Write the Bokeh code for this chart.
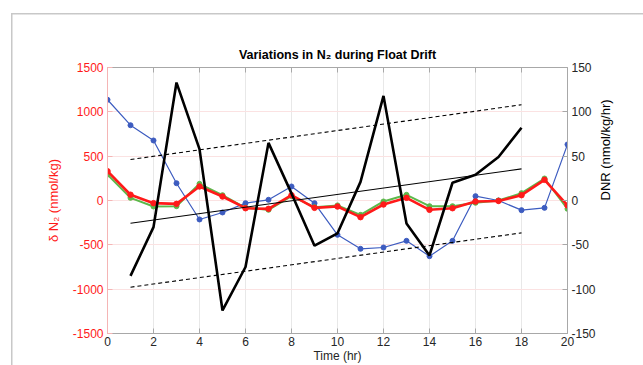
import math
from bokeh.plotting import figure
from bokeh.models import Range1d, LinearAxis, FixedTicker
from bokeh.embed import file_html
from bokeh.resources import INLINE

# ---------------- data ----------------
hours = list(range(21))
dn2_red = [330, 65, -30, -38, 158, 45, -87, -94, 60, -83, -68, -188, -45, 30, -105, -87, -11, -5, 60, 233, -56]
dn2_green = [293, 30, -68, -64, 188, 60, -82, -105, 50, -75, -55, -162, -11, 64, -64, -64, -26, 0, 83, 248, -94]
dn2_blue = [1136, 849, 677, 195, -214, -135, -30, 8, 158, -30, -387, -545, -530, -455, -628, -455, 49, 0, -109, -83, 632]

dnr_hours = list(range(1, 19))
dnr = [-85, -30, 133, 58, -124, -75, 65, 8, -51, -37, 21, 118, -26, -62, 20, 29, 49, 82]

trend_hours = [1, 18]
trend_mid = [-25.6, 35.7]
trend_upper = [46.2, 108.0]
trend_lower = [-97.8, -36.5]

x_ticks = [0, 2, 4, 6, 8, 10, 12, 14, 16, 18, 20]
left_ticks = [-1500, -1000, -500, 0, 500, 1000, 1500]
right_ticks = [-150, -100, -50, 0, 50, 100, 150]

title_text = "Variations in N\u2082 during Float Drift"
left_label = "\u03b4 N\u2082 (nmol/kg)"
right_label = "DNR (nmol/kg/hr)"
x_label = "Time (hr)"

# ---------------- styling ----------------
FONT = "Liberation Sans"
RED = "#ff1a1a"
GREEN = "#5cb84a"
BLUE = "#3d5cc0"
AXGRAY = "#a8a8a8"
TXT = "#262626"
BORDER = "#c8c8c8"

frame_css = (f"linear-gradient({BORDER},{BORDER}) 11px 13px / 1.5px 100% no-repeat, "
             f"linear-gradient({BORDER},{BORDER}) 11px 13px / 100% 1.5px no-repeat")

p = figure(width=643, height=365, output_backend="svg", toolbar_location=None,
           x_range=Range1d(0, 20), y_range=Range1d(-1500, 1500),
           min_border_left=107, min_border_right=76, min_border_top=67, min_border_bottom=32,
           styles={"background": frame_css})
p.extra_y_ranges = {"dnr": Range1d(-150, 150)}
p.outline_line_color = None
p.background_fill_color = "white"
p.border_fill_color = None

p.title.text = title_text
p.title.align = "center"
p.title.text_font = FONT
p.title.text_font_size = "12.5px"
p.title.text_font_style = "bold"
p.title.text_color = "black"
p.title.standoff = 12

# grids
p.xgrid.ticker = FixedTicker(ticks=x_ticks)
p.xgrid.grid_line_color = "#e8e8e8"
p.ygrid.ticker = FixedTicker(ticks=left_ticks)
p.ygrid.grid_line_color = "#fbe2e2"


def hyphen_labels(ticks):
    return {t: str(t) for t in ticks}


# bottom axis
xa = p.xaxis[0]
xa.ticker = FixedTicker(ticks=x_ticks)
xa.axis_line_color = AXGRAY
xa.major_tick_line_color = AXGRAY
xa.major_tick_in = 5
xa.major_tick_out = 0
xa.minor_tick_line_color = None
xa.major_label_text_font = FONT
xa.major_label_text_font_size = "12px"
xa.major_label_text_color = TXT
xa.major_label_standoff = 3
xa.axis_label = x_label
xa.axis_label_text_font = FONT
xa.axis_label_text_font_size = "12px"
xa.axis_label_text_font_style = "normal"
xa.axis_label_text_color = TXT
xa.axis_label_standoff = 0

# left axis
ya = p.yaxis[0]
ya.ticker = FixedTicker(ticks=left_ticks)
ya.major_label_overrides = hyphen_labels(left_ticks)
ya.axis_line_color = "#f5b5b5"
ya.major_tick_line_color = "#f5b5b5"
ya.major_tick_in = 5
ya.major_tick_out = 0
ya.minor_tick_line_color = None
ya.major_label_text_font = FONT
ya.major_label_text_font_size = "12px"
ya.major_label_text_color = RED
ya.major_label_standoff = 4
ya.axis_label = left_label
ya.axis_label_text_font = FONT
ya.axis_label_text_font_size = "13px"
ya.axis_label_text_font_style = "normal"
ya.axis_label_text_color = RED
ya.axis_label_standoff = 9

# right axis
ra = LinearAxis(y_range_name="dnr", ticker=FixedTicker(ticks=right_ticks), axis_label=right_label)
ra.major_label_overrides = hyphen_labels(right_ticks)
ra.axis_line_color = AXGRAY
ra.major_tick_line_color = AXGRAY
ra.major_tick_in = 5
ra.major_tick_out = 0
ra.minor_tick_line_color = None
ra.major_label_text_font = FONT
ra.major_label_text_font_size = "12px"
ra.major_label_text_color = TXT
ra.major_label_standoff = 4
ra.axis_label_text_font = FONT
ra.axis_label_text_font_size = "13px"
ra.axis_label_text_font_style = "normal"
ra.axis_label_text_color = "black"
ra.axis_label_standoff = 7
if hasattr(ra, "axis_label_orientation"):
    ra.axis_label_orientation = math.pi / 2
p.add_layout(ra, "right")

# top axis (box edge with inward ticks, no labels)
ta = LinearAxis(ticker=FixedTicker(ticks=x_ticks))
ta.axis_line_color = AXGRAY
ta.major_tick_line_color = AXGRAY
ta.major_tick_in = 5
ta.major_tick_out = 0
ta.minor_tick_line_color = None
ta.major_label_text_alpha = 0
ta.major_label_text_font_size = "1px"
ta.major_label_standoff = 0
p.add_layout(ta, "above")

# data
p.line(hours, dn2_blue, line_color=BLUE, line_width=1.2)
p.scatter(hours, dn2_blue, size=5, fill_color=BLUE, line_color=BLUE)
p.line(hours, dn2_green, line_color=GREEN, line_width=2)
p.scatter(hours, dn2_green, size=5, fill_color=GREEN, line_color=GREEN)
p.line(hours, dn2_red, line_color=RED, line_width=2.6)
p.scatter(hours, dn2_red, size=5.5, fill_color=RED, line_color=RED)

p.line(trend_hours, trend_upper, y_range_name="dnr", line_color="black", line_width=1.1, line_dash="4 3")
p.line(trend_hours, trend_lower, y_range_name="dnr", line_color="black", line_width=1.1, line_dash="4 3")
p.line(trend_hours, trend_mid, y_range_name="dnr", line_color="black", line_width=1.1)
p.line(dnr_hours, dnr, y_range_name="dnr", line_color="black", line_width=2.6)

open("out.html", "w").write(file_html(p, INLINE))
